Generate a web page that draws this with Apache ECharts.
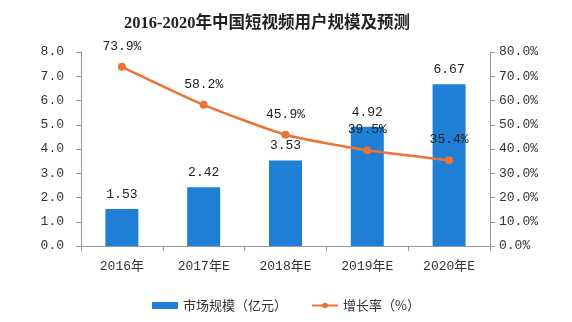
<!DOCTYPE html>
<html>
<head>
<meta charset="utf-8">
<script src="https://cdn.jsdelivr.net/npm/echarts@6/dist/echarts.min.js"></script>
<style>html,body{margin:0;padding:0;background:#fff;}#c{width:572px;height:322px;}</style>
</head>
<body>
<div id="c"></div>
<script>
const categories = ['2016年', '2017年E', '2018年E', '2019年E', '2020年E'];
const marketSize = [1.53, 2.42, 3.53, 4.92, 6.67];
const growthRate = [73.9, 58.2, 45.9, 39.5, 35.4];
const leftTicks = { min: 0, max: 8, interval: 1 };
const rightTicks = { min: 0, max: 80, interval: 10 };

const MONO = '"Liberation Mono", "Noto Sans CJK SC", monospace';
const TITLE_FONT = '"Liberation Serif", "Noto Sans CJK SC", serif';
const CJK = '"Noto Sans CJK SC", sans-serif';
const chart = echarts.init(document.getElementById('c'));
chart.setOption({
  backgroundColor: '#fff',
  animation: false,
  textStyle: { fontFamily: MONO, color: '#333' },
  title: {
    text: '2016-2020年中国短视频用户规模及预测',
    left: 119, top: 10,
    textStyle: { fontFamily: TITLE_FONT, fontSize: 16.5, fontWeight: 'bold', color: '#222' }
  },
  legend: {
    bottom: 5, left: 'center', itemGap: 24, itemWidth: 26, itemHeight: 7,
    textStyle: { fontFamily: CJK, fontSize: 13, color: '#333' },
    data: [
      { name: '市场规模（亿元）', icon: 'rect' },
      { name: '增长率（%）' }
    ]
  },
  grid: { left: 81, right: 82, top: 52, bottom: 76 },
  xAxis: {
    type: 'category', data: categories,
    axisLine: { lineStyle: { color: '#999' } },
    axisTick: { show: true, alignWithLabel: false, lineStyle: { color: '#999' } },
    axisLabel: { fontFamily: MONO, fontSize: 13, color: '#333', margin: 14 }
  },
  yAxis: [
    {
      type: 'value', min: leftTicks.min, max: leftTicks.max, interval: leftTicks.interval,
      axisLine: { show: true, lineStyle: { color: '#999' } },
      axisTick: { show: true, lineStyle: { color: '#999' } },
      splitLine: { show: false },
      axisLabel: { fontFamily: MONO, fontSize: 13, color: '#333', margin: 17, formatter: v => v.toFixed(1) }
    },
    {
      type: 'value', min: rightTicks.min, max: rightTicks.max, interval: rightTicks.interval,
      axisLine: { show: true, lineStyle: { color: '#999' } },
      axisTick: { show: true, lineStyle: { color: '#999' } },
      splitLine: { show: false },
      axisLabel: { fontFamily: MONO, fontSize: 13, color: '#333', margin: 9, formatter: v => v.toFixed(1) + '%' }
    }
  ],
  series: [
    {
      name: '市场规模（亿元）', type: 'bar', data: marketSize, barWidth: 33,
      itemStyle: { color: '#1f7fd6' },
      label: { show: true, position: 'top', distance: 8, fontFamily: MONO, fontSize: 13, color: '#222', formatter: p => p.value.toFixed(2) }
    },
    {
      name: '增长率（%）', type: 'line', yAxisIndex: 1, data: growthRate, smooth: 0.2,
      symbol: 'circle', symbolSize: 8,
      lineStyle: { color: '#ea7435', width: 2.5 },
      itemStyle: { color: '#ea7435' },
      label: { show: true, position: 'top', distance: 10, fontFamily: MONO, fontSize: 13, color: '#222', formatter: p => p.value.toFixed(1) + '%' }
    }
  ]
});
</script>
</body>
</html>
